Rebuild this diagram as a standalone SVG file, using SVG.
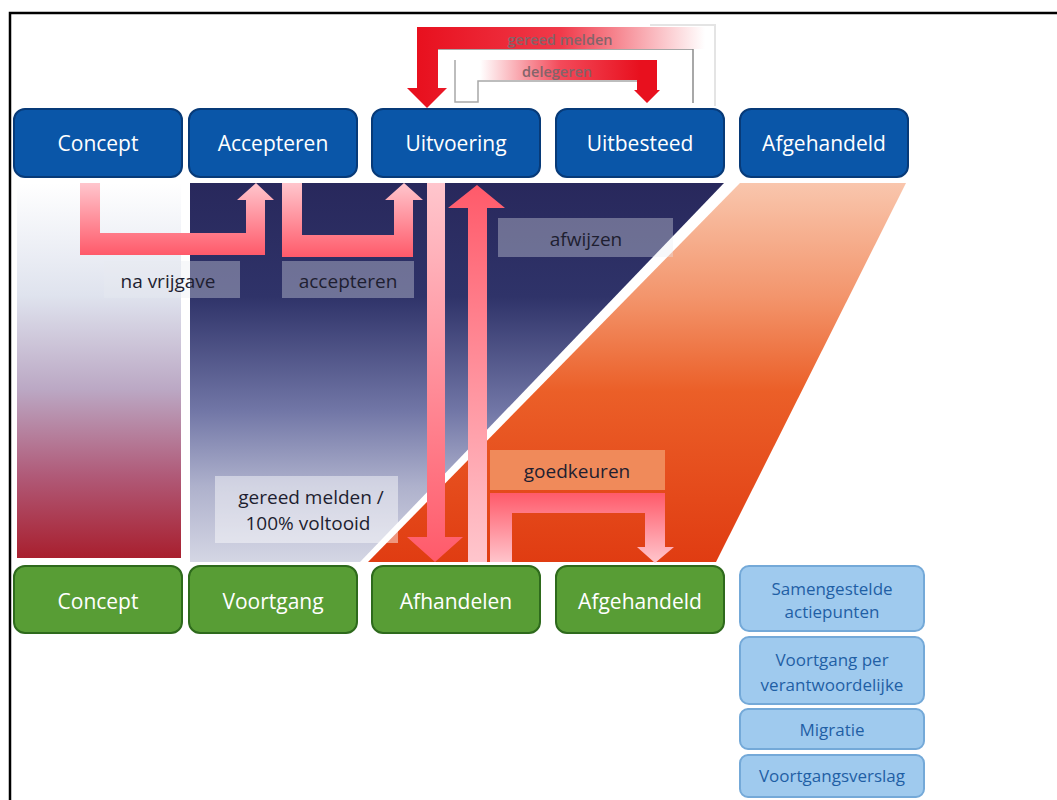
<svg xmlns="http://www.w3.org/2000/svg" width="1057" height="800" viewBox="0 0 1057 800">
<defs>
<style>
.top rect{fill:#0a56a8;stroke:#073a78;stroke-width:2}
.bot rect{fill:#589d35;stroke:#2e6a1c;stroke-width:2}
.lb rect{fill:#9fcaee;stroke:#74a9d8;stroke-width:2}
.nt{font-family:"Open Sans","Noto Sans",sans-serif;font-size:21px;fill:#ffffff;text-anchor:middle}
.lt{font-family:"Open Sans","Noto Sans",sans-serif;font-size:17px;fill:#1f5fa5;text-anchor:middle}
.lab{font-family:"Open Sans","Noto Sans",sans-serif;font-size:19px;fill:#1e1e30;text-anchor:middle}
.sm{font-family:"Open Sans","Noto Sans",sans-serif;font-size:14.5px;font-weight:600;fill:#84646a;text-anchor:middle}
.box{fill:#e8eaf2;fill-opacity:0.35}
</style>
<linearGradient id="leftCol" x1="0" y1="0" x2="0" y2="1">
<stop offset="0" stop-color="#ffffff"/>
<stop offset="0.3" stop-color="#dfe3ee"/>
<stop offset="0.55" stop-color="#bba8c4"/>
<stop offset="0.78" stop-color="#b05a78"/>
<stop offset="1" stop-color="#a81f2e"/>
</linearGradient>
<linearGradient id="navy" x1="0" y1="0" x2="0" y2="1">
<stop offset="0" stop-color="#28285c"/>
<stop offset="0.3" stop-color="#2f3369"/>
<stop offset="0.6" stop-color="#7176a6"/>
<stop offset="0.8" stop-color="#aeb1cc"/>
<stop offset="1" stop-color="#d4d6e4"/>
</linearGradient>
<linearGradient id="orange" x1="0" y1="0" x2="0" y2="1">
<stop offset="0" stop-color="#f9c6ad"/>
<stop offset="0.3" stop-color="#f3956c"/>
<stop offset="0.55" stop-color="#eb5f28"/>
<stop offset="1" stop-color="#e03c12"/>
</linearGradient>
<linearGradient id="pinkDown" x1="0" y1="0" x2="0" y2="1">
<stop offset="0" stop-color="#ffc6cd"/>
<stop offset="1" stop-color="#ff5a6a"/>
</linearGradient>
<linearGradient id="pinkUp" x1="0" y1="0" x2="0" y2="1">
<stop offset="0" stop-color="#ff5a6a"/>
<stop offset="1" stop-color="#ffc6cd"/>
</linearGradient>
<linearGradient id="redLeft" gradientUnits="userSpaceOnUse" x1="417" y1="0" x2="705" y2="0">
<stop offset="0" stop-color="#e8101e"/>
<stop offset="0.5" stop-color="#f03a4a"/>
<stop offset="1" stop-color="#ffffff"/>
</linearGradient>
<linearGradient id="redRight" gradientUnits="userSpaceOnUse" x1="480" y1="0" x2="640" y2="0">
<stop offset="0" stop-color="#ffffff"/>
<stop offset="0.5" stop-color="#f34a5a"/>
<stop offset="1" stop-color="#e8101e"/>
</linearGradient>
</defs>
<rect x="0" y="0" width="1057" height="800" fill="#ffffff"/>
<path d="M10,800 V13 H1057" fill="none" stroke="#000000" stroke-width="2.5"/>
<g id="background">
<rect x="17" y="183" width="164" height="375" fill="url(#leftCol)"/>
<polygon points="190,183 724,183 360,562 190,562" fill="url(#navy)"/>
<polygon points="740,183 906,183 716,562 368,562" fill="url(#orange)"/>
</g>
<g id="label-boxes">
<rect class="box" x="104" y="261" width="136" height="37"/>
<rect class="box" x="282" y="261" width="132" height="37"/>
<rect class="box" x="498" y="218" width="175" height="39"/>
<rect x="215" y="476" width="183" height="67" fill="#ffffff" fill-opacity="0.45"/>
<rect x="490" y="450" width="175" height="40" fill="#f08a5a"/>
</g>
<g id="connectors">
<path d="M438,49 H693 V103" fill="none" stroke="#8c8c8c" stroke-width="1.5"/>
<path d="M650,25 H715 V106" fill="none" stroke="#e4e4e4" stroke-width="2"/>
<path d="M455,60 V102 H478 V81 H637" fill="none" stroke="#a8a8a8" stroke-width="1.5"/>
<path d="M417,27 H705 V49 H438 V88 H447 L427,108 L407,88 H417 Z" fill="url(#redLeft)"/>
<path d="M478,60 H657 V90 H660 L647,103 L634,90 H637 V80 H478 Z" fill="url(#redRight)"/>
<path d="M80,183 H100 V233 H246 V200 H237 L256,183 L274,200 H265 V255 H80 Z" fill="url(#pinkDown)"/>
<path d="M282,183 H302 V235 H394 V200 H385 L404,183 L423,200 H413 V257 H282 Z" fill="url(#pinkDown)"/>
<path d="M427,183 H445 V537 H463 L435,562 L407,537 H427 Z" fill="url(#pinkDown)"/>
<path d="M468,562 V208 H448 L477,185 L505,208 H487 V562 Z" fill="url(#pinkUp)"/>
<path d="M490,562 V493 H665 V547 H674 L655,563 L637,547 H645 V513 H512 V562 Z" fill="url(#pinkUp)"/>
</g>
<g id="labels">
<text class="sm" x="560" y="45">gereed melden</text>
<text class="sm" x="557" y="77">delegeren</text>
<text class="lab" x="168" y="288">na vrijgave</text>
<text class="lab" x="348" y="288">accepteren</text>
<text class="lab" x="586" y="246">afwijzen</text>
<text class="lab" x="311" y="504">gereed melden /</text>
<text class="lab" x="308" y="530">100% voltooid</text>
<text class="lab" x="577" y="478">goedkeuren</text>
</g>
<g id="top-concept" class="top"><rect x="14" y="109" width="168" height="68" rx="11"/><text class="nt" x="98" y="151">Concept</text></g>
<g id="top-accepteren" class="top"><rect x="189" y="109" width="168" height="68" rx="11"/><text class="nt" x="273" y="151">Accepteren</text></g>
<g id="top-uitvoering" class="top"><rect x="372" y="109" width="168" height="68" rx="11"/><text class="nt" x="456" y="151">Uitvoering</text></g>
<g id="top-uitbesteed" class="top"><rect x="556" y="109" width="168" height="68" rx="11"/><text class="nt" x="640" y="151">Uitbesteed</text></g>
<g id="top-afgehandeld" class="top"><rect x="740" y="109" width="168" height="68" rx="11"/><text class="nt" x="824" y="151">Afgehandeld</text></g>
<g id="bot-concept" class="bot"><rect x="14" y="566" width="168" height="67" rx="11"/><text class="nt" x="98" y="609">Concept</text></g>
<g id="bot-voortgang" class="bot"><rect x="189" y="566" width="168" height="67" rx="11"/><text class="nt" x="273" y="609">Voortgang</text></g>
<g id="bot-afhandelen" class="bot"><rect x="372" y="566" width="168" height="67" rx="11"/><text class="nt" x="456" y="609">Afhandelen</text></g>
<g id="bot-afgehandeld" class="bot"><rect x="556" y="566" width="168" height="67" rx="11"/><text class="nt" x="640" y="609">Afgehandeld</text></g>
<g id="lb-samengestelde" class="lb"><rect x="740" y="566" width="184" height="65" rx="9"/><text class="lt" x="832" y="595">Samengestelde</text><text class="lt" x="832" y="618">actiepunten</text></g>
<g id="lb-voortgang-per" class="lb"><rect x="740" y="637" width="184" height="67" rx="9"/><text class="lt" x="832" y="666">Voortgang per</text><text class="lt" x="832" y="691">verantwoordelijke</text></g>
<g id="lb-migratie" class="lb"><rect x="740" y="709" width="184" height="40" rx="8"/><text class="lt" x="832" y="736">Migratie</text></g>
<g id="lb-voortgangsverslag" class="lb"><rect x="740" y="755" width="184" height="42" rx="8"/><text class="lt" x="832" y="782">Voortgangsverslag</text></g>
</svg>
